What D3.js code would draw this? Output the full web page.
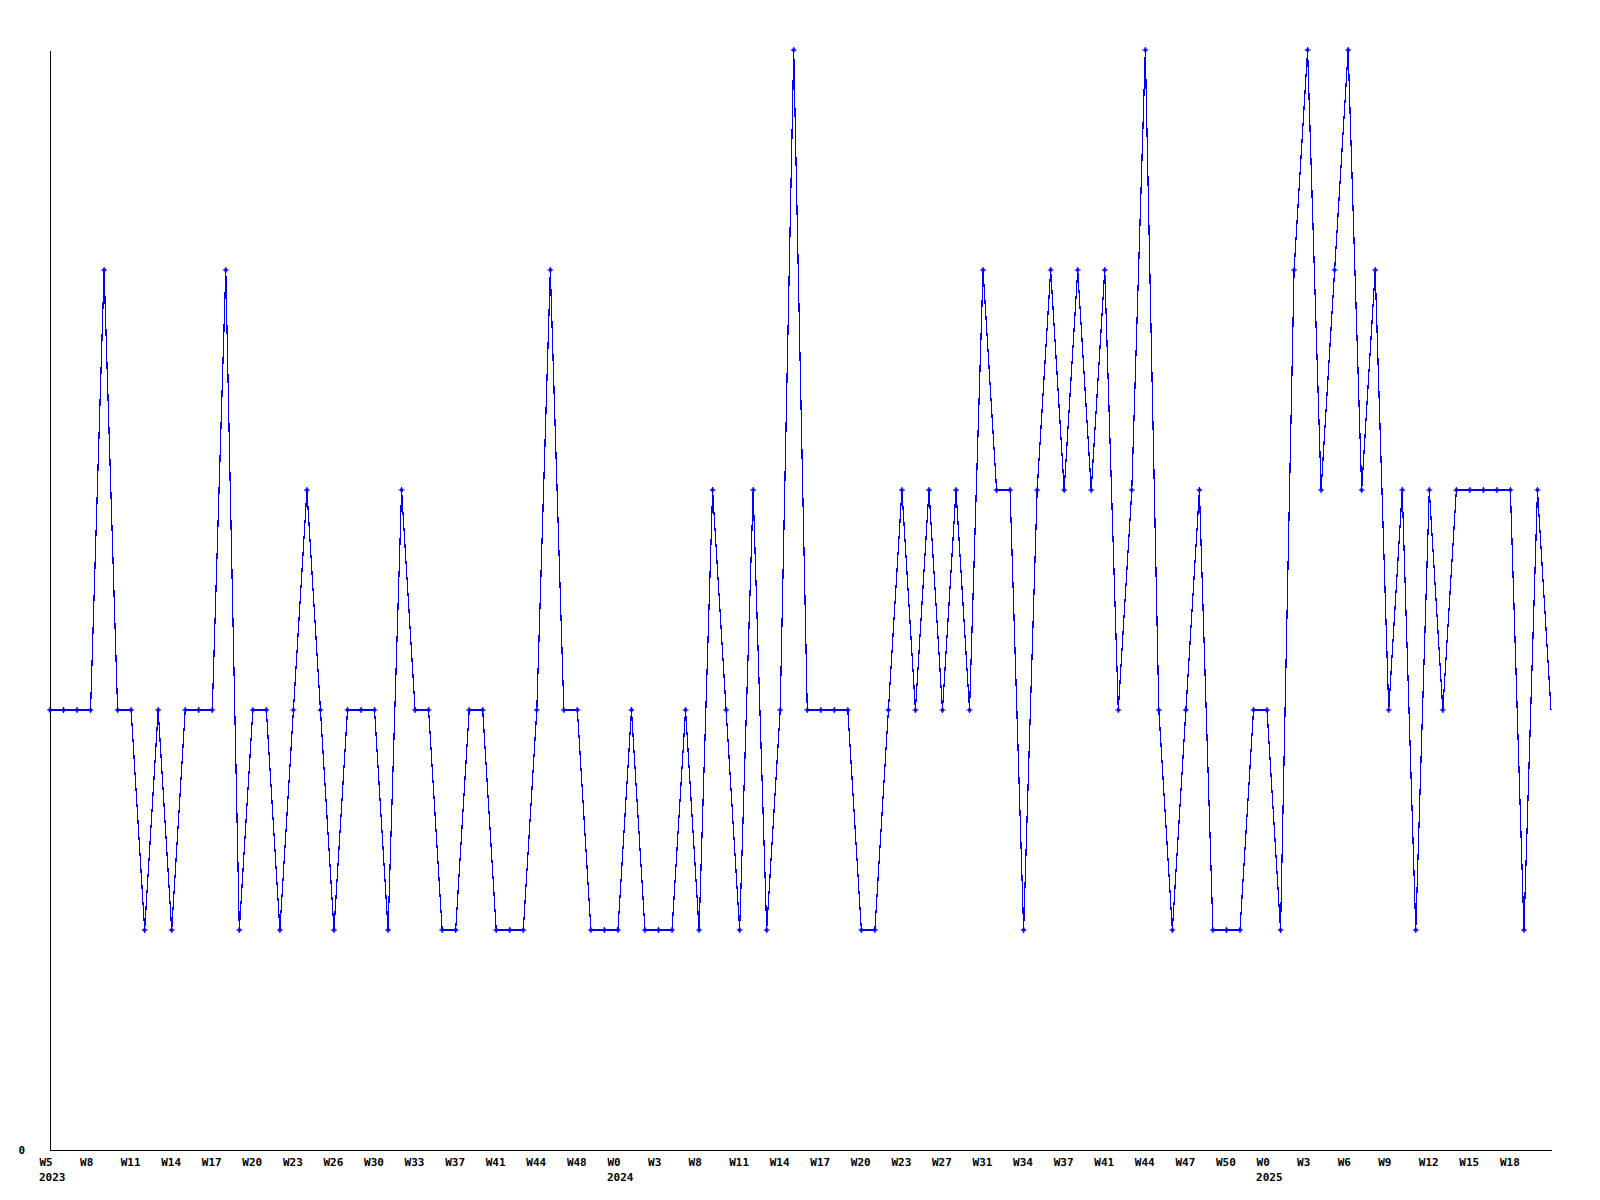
<!DOCTYPE html>
<html>
<head>
<meta charset="utf-8">
<script src="https://cdn.jsdelivr.net/npm/d3@7"></script>
<style>
  html, body { margin: 0; padding: 0; background: #fff; }
  svg { display: block; }
  text { font-family: "DejaVu Sans Mono", "Liberation Mono", monospace; font-weight: bold; font-size: 11px; fill: #000; }
</style>
</head>
<body>
<svg id="chart" width="1600" height="1200"></svg>
<script>
// Weekly values (one per week point)
const values = [
  2,2,2,2,4,2,2,1,2,1,
  2,2,2,4,1,2,2,1,2,3,
  2,1,2,2,2,1,3,2,2,1,
  1,2,2,1,1,1,2,4,2,2,
  1,1,1,2,1,1,1,2,1,3,
  2,1,3,1,2,5,2,2,2,2,
  1,1,2,3,2,3,2,3,2,4,
  3,3,1,3,4,3,4,3,4,2,
  3,5,2,1,2,3,1,1,1,2,
  2,1,4,5,3,4,5,3,4,2,
  3,1,3,2,3,3,3,3,3,1,
  3,2
];
// Tick labels shown every 3rd point
const weekLabels = ["W5","W8","W11","W14","W17","W20","W23","W26","W30","W33","W37","W41","W44","W48",
  "W0","W3","W8","W11","W14","W17","W20","W23","W27","W31","W34","W37","W41","W44","W47","W50",
  "W0","W3","W6","W9","W12","W15","W18"];
const labelStep = 3;
const yearLabels = ["2023", "2024", "2025"];
const yearLabelAt = [0, 14, 30];   // index into weekLabels
const yMax = 5;

(function () {
const svg = d3.select("#chart");
const mLeft = 50, mRight = 1551, mTop = 50, mBottom = 1150;

const x = d3.scaleLinear().domain([0, values.length - 1]).range([mLeft, mRight]);
const y = d3.scaleLinear().domain([0, yMax]).range([mBottom, mTop]);

// X axis
const tickIdx = weekLabels.map((d, i) => i * labelStep);
const xAxis = d3.axisBottom(x)
  .tickValues(tickIdx)
  .tickFormat((d) => weekLabels[d / labelStep])
  .tickSize(0).tickSizeOuter(0);
const gx = svg.append("g").attr("transform", `translate(0,${mBottom})`).call(xAxis);
gx.select(".domain").attr("stroke", "#000").attr("shape-rendering", "crispEdges");
gx.selectAll(".tick text")
  .attr("text-anchor", "start").attr("x", -11).attr("y", 16).attr("dy", 0)
  .attr("fill", "#000").style("font-size", "11px").style("font-family", '"DejaVu Sans Mono", monospace').style("font-weight", "bold");

// year labels
svg.append("g").selectAll("text").data(yearLabels).join("text")
  .attr("x", (d, i) => x(yearLabelAt[i] * labelStep) - 11)
  .attr("y", mBottom + 31)
  .attr("text-anchor", "start")
  .text(d => d);

// Y axis
const yAxis = d3.axisLeft(y).tickValues([0]).tickFormat(d3.format("d")).tickSize(0).tickSizeOuter(0).tickPadding(25);
const gy = svg.append("g").attr("transform", `translate(${mLeft},0)`).call(yAxis);
gy.select(".domain").attr("stroke", "#000").attr("shape-rendering", "crispEdges");
gy.selectAll(".tick text").attr("fill", "#000").style("font-size", "11px").style("font-family", '"DejaVu Sans Mono", monospace').style("font-weight", "bold");

// Line
const line = d3.line().x((d, i) => x(i)).y(d => y(d));
svg.append("path").datum(values)
  .attr("d", line)
  .attr("fill", "none")
  .attr("stroke", "#0000ff")
  .attr("stroke-width", 1.2)
  .attr("shape-rendering", "crispEdges");

// Markers (all but the last point)
const markerPath = "M-3,0H3M0,-3V3";
svg.append("g").selectAll("path").data(values.slice(0, -1)).join("path")
  .attr("transform", (d, i) => `translate(${x(i)},${y(d)})`)
  .attr("d", markerPath)
  .attr("stroke", "#0000ff")
  .attr("stroke-width", 1.2)
  .attr("fill", "none");
svg.append("g").selectAll("rect").data(values.slice(0, -1)).join("rect")
  .attr("x", (d, i) => x(i) - 1.5)
  .attr("y", d => y(d) - 1.5)
  .attr("width", 3).attr("height", 3)
  .attr("fill", "#0000ff");
})();
</script>
</body>
</html>
